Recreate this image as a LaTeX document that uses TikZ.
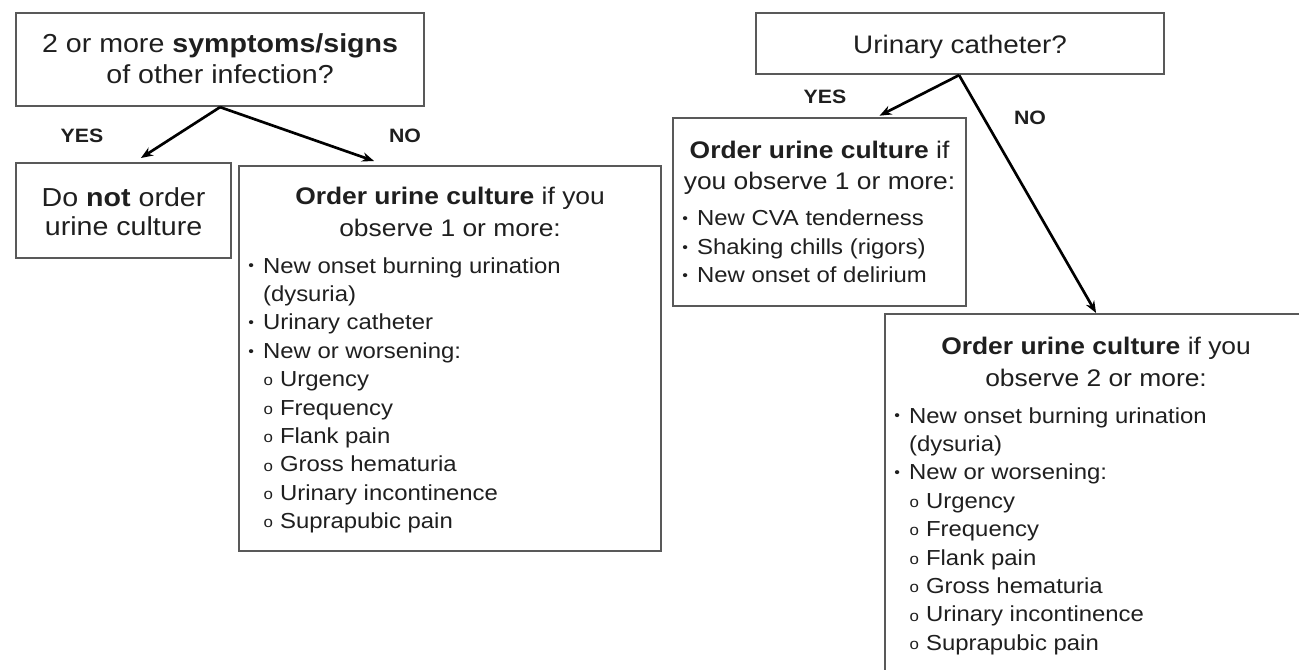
\documentclass[tikz,border=0pt]{standalone}
\usepackage{fontspec}
\setmainfont{Liberation Sans}[FakeStretch=1.1]
\usetikzlibrary{arrows.meta}
\definecolor{boxline}{gray}{0.35}
\definecolor{ink}{gray}{0.12}
\tikzstyle{question}=[
	draw=boxline,
	line width=1.6pt,
	inner sep=0pt,
	anchor=north west,
	text=ink
]
\tikzstyle{answer}=[
	font=\bfseries\fontsize{14.5}{16}\selectfont,
	text=ink
]
\newcommand{\bigfont}{\fontsize{19.5}{23.25}\selectfont}
\newcommand{\headfont}{\fontsize{18}{24}\selectfont}
\newcommand{\listfont}{\fontsize{16.3}{21.3}\selectfont}
\newcommand{\pnt}[1]{\par\hangindent=18pt\hangafter=1\noindent\makebox[18pt][l]{\hspace{7pt}\raisebox{1.6pt}{\fontsize{11}{11}\selectfont\textbullet}}#1}
\newcommand{\subpnt}[1]{\par\noindent\makebox[30.75pt][l]{\hspace{18.5pt}\raisebox{0.6pt}{\fontsize{11.5}{11.5}\selectfont o}}#1}

\begin{document}
\begin{tikzpicture}[x=0.75pt,y=-0.75pt,line width=2pt,-{Stealth[length=9pt,width=7pt]}]

\clip (0,0) rectangle (1299,669);
\fill[white] (0,0) rectangle (1299,669);

% Question: other infection
\node[question] (qa) at (15,12){\parbox[c][69.75pt][t]{306pt}{\bigfont\centering
	\rule{0pt}{29.25pt}2 or more \textbf{symptoms/signs}\\ of other infection?\par}};

% Yes: no culture
\node[question] (noorder) at (15,162){\parbox[c][71.25pt][t]{161.25pt}{\fontsize{19.5}{21.75}\selectfont\centering
	\rule{0pt}{32.25pt}Do \textbf{not} order\\ urine culture\par}};

% No: culture if 1 or more
\node[question] (ordera) at (238,165){\parbox[c][288.75pt][t]{316.5pt}{%
	{\headfont\centering\rule{0pt}{28.5pt}\textbf{Order urine culture} if you\\ observe 1 or more:\par}
	\vspace{6.45pt}
	{\listfont
	\pnt{New onset burning urination\\(dysuria)}
	\pnt{Urinary catheter}
	\pnt{New or worsening:}
	\subpnt{Urgency}
	\subpnt{Frequency}
	\subpnt{Flank pain}
	\subpnt{Gross hematuria}
	\subpnt{Urinary incontinence}
	\subpnt{Suprapubic pain}\par}}};

% Question: catheter
\node[question] (qb) at (755,12){\parbox[c][45.75pt][t]{306pt}{\fontsize{19}{22}\selectfont\centering
	\rule{0pt}{30pt}Urinary catheter?\par}};

% Yes: culture if 1 or more
\node[question] (orderb) at (672,117){\parbox[c][141pt][t]{219.75pt}{%
	{\fontsize{18}{23.25}\selectfont\centering\rule{0pt}{30pt}\textbf{Order urine culture} if\\ you observe 1 or more:\par}
	\vspace{6.35pt}
	{\listfont
	\pnt{New CVA tenderness}
	\pnt{Shaking chills (rigors)}
	\pnt{New onset of delirium}\par}}};

% No: culture if 2 or more
\node[question] (orderc) at (884,313){\parbox[c][288.75pt][t]{316.5pt}{%
	{\headfont\centering\rule{0pt}{30pt}\textbf{Order urine culture} if you\\ observe 2 or more:\par}
	\vspace{6.45pt}
	{\listfont
	\pnt{New onset burning urination\\(dysuria)}
	\pnt{New or worsening:}
	\subpnt{Urgency}
	\subpnt{Frequency}
	\subpnt{Flank pain}
	\subpnt{Gross hematuria}
	\subpnt{Urinary incontinence}
	\subpnt{Suprapubic pain}\par}}};

% Branches of first question
\draw (qa.south) -- ([xshift=13pt,yshift=3pt]noorder.north);
\draw (qa.south) -- ([xshift=-57pt,yshift=3pt]ordera.north);
\node[answer] (yesa) at (82,136){YES};
\node[answer] (noa) at (405,136){NO};

% Branches of second question
\draw ([xshift=-0.75pt]qb.south) -- ([xshift=45pt,yshift=1pt]orderb.north);
\draw ([xshift=-0.75pt]qb.south) -- (orderc.north);
\node[answer] (yesb) at (825,97){YES};
\node[answer] (nob) at (1030,118){NO};

\end{tikzpicture}
\end{document}
